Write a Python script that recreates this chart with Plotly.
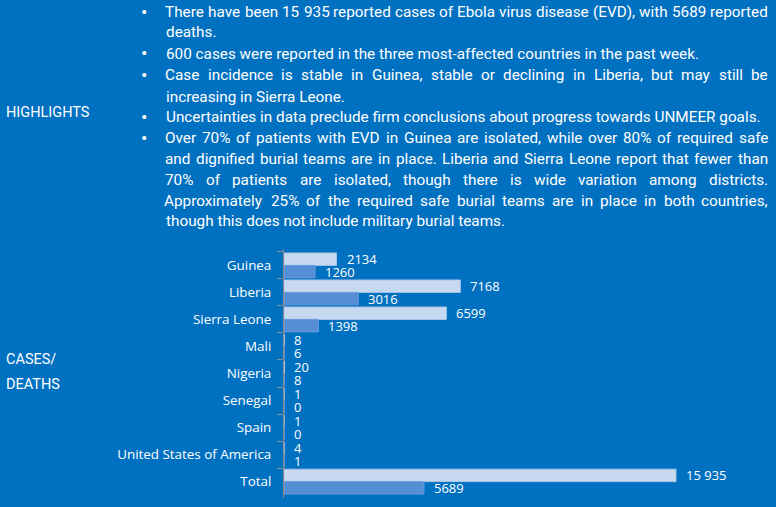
import plotly.graph_objects as go

W, H = 776, 507

countries = ["Guinea", "Liberia", "Sierra Leone", "Mali", "Nigeria", "Senegal",
             "Spain", "United States of America", "Total"]
cases = [2134, 7168, 6599, 8, 20, 1, 1, 4, 15935]
deaths = [1260, 3016, 1398, 6, 8, 0, 0, 1, 5689]

# (text, starts a bullet, justified line)
highlight_lines = [
    ("There have been 15 935 reported cases of Ebola virus disease (EVD), with 5689 reported", True, True),
    ("deaths.", False, False),
    ("600 cases were reported in the three most-affected countries in the past week.", True, False),
    ("Case incidence is stable in Guinea, stable or declining in Liberia, but may still be", True, True),
    ("increasing in Sierra Leone.", False, False),
    ("Uncertainties in data preclude firm conclusions about progress towards UNMEER goals.", True, False),
    ("Over 70% of patients with EVD in Guinea are isolated, while over 80% of required safe", True, True),
    ("and dignified burial teams are in place. Liberia and Sierra Leone report that fewer than", False, True),
    ("70% of patients are isolated, though there is wide variation among districts.", False, True),
    ("Approximately 25% of the required safe burial teams are in place in both countries,", False, True),
    ("though this does not include military burial teams.", False, False),
]
line_y = [12.3, 32.3, 54, 75.3, 96.7, 117.3, 138.3, 159, 180, 200.7, 220.7]

# approximate Roboto advance widths (em)
_W = {
    " ": .248, "a": .532, "b": .547, "c": .510, "d": .550, "e": .517, "f": .340, "g": .547,
    "h": .539, "i": .237, "j": .234, "k": .495, "l": .237, "m": .855, "n": .539, "o": .556,
    "p": .547, "q": .550, "r": .331, "s": .505, "t": .320, "u": .538, "v": .472, "w": .733,
    "x": .485, "y": .463, "z": .485, ".": .257, ",": .192, "(": .334, ")": .340, "%": .716,
    "-": .270, "A": .652, "B": .623, "C": .636, "D": .640, "E": .555, "F": .546, "G": .666,
    "H": .697, "I": .272, "L": .528, "M": .855, "N": .697, "O": .672, "P": .626, "R": .614,
    "S": .602, "T": .604, "U": .633, "V": .637, "W": .868,
}
W_SCALE = 1.02


def text_w(s, size):
    return sum(_W.get(ch, .561) for ch in s) * size * W_SCALE


def fmt(v):
    return f"{v:,}".replace(",", " ") if v >= 10000 else str(v)


BG = "#0070C0"
CASE_C = "#C6D9F1"
DEATH_C = "#558ED5"
TXT_FONT = "Roboto, sans-serif"
CH_FONT = "Open Sans, Noto Sans, sans-serif"
X_LEFT, X_RIGHT = 165, 768
FS = 15.3

fig = go.Figure()
fig.add_trace(go.Bar(y=countries, x=cases, orientation="h", name="Cases",
                     marker=dict(color=CASE_C, line=dict(color="#A9C4E8", width=1)),
                     hoverinfo="x+y"))
fig.add_trace(go.Bar(y=countries, x=deaths, orientation="h", name="Deaths",
                     marker=dict(color=DEATH_C, line=dict(color="#6A9CDD", width=1)),
                     hoverinfo="x+y"))

ann = []
for vals, dy in ((cases, 6.4), (deaths, -6.4)):
    for c, v in zip(countries, vals):
        ann.append(dict(x=v, y=c, xref="x", yref="y", text=fmt(v), showarrow=False,
                        xanchor="left", yanchor="middle", xshift=9, yshift=dy,
                        borderpad=0,
                        font=dict(family=CH_FONT, size=13, color="white")))


def px(x, y):
    return x / W, 1 - y / H


def add_text(t, x, yy, anchor="left", size=FS):
    x0, y0 = px(x, yy)
    ann.append(dict(x=x0, y=y0, xref="paper", yref="paper", text=t, showarrow=False,
                    xanchor=anchor, yanchor="middle", borderpad=0,
                    font=dict(family=TXT_FONT, size=size, color="white")))


for (t, bullet, just), yy in zip(highlight_lines, line_y):
    if bullet:
        add_text("•", 144, yy, anchor="center", size=19)
    if not just:
        add_text(t, X_LEFT, yy)
        continue
    words = t.split(" ")
    widths = [text_w(w_, FS) for w_ in words]
    gap = (X_RIGHT - X_LEFT - sum(widths)) / (len(words) - 1)
    pos = X_LEFT
    for w_, wd in zip(words, widths):
        add_text(w_, pos + wd / 2, yy, anchor="center")
        pos += wd + gap

for t, yy in [("HIGHLIGHTS", 112), ("CASES/", 359), ("DEATHS", 384)]:
    add_text(t, 5, yy, size=14.5)

fig.update_layout(
    width=W, height=H,
    margin=dict(l=0, r=0, t=0, b=0),
    paper_bgcolor=BG, plot_bgcolor=BG,
    barmode="group", bargap=0.08, bargroupgap=0,
    showlegend=False,
    annotations=ann,
    xaxis=dict(domain=[284 / W, 1], range=[0, 20000], showgrid=False, zeroline=False,
               showticklabels=False, showline=False, ticks=""),
    yaxis=dict(domain=[9 / H, 1 - 249 / H], autorange="reversed", type="category",
               showgrid=False, zeroline=False, showline=True, linecolor="#8C8C8C",
               linewidth=1, ticks="outside", tickson="boundaries", ticklen=6,
               tickcolor="#8C8C8C", ticklabelstandoff=9,
               tickfont=dict(family=CH_FONT, size=13.4, color="white")),
)

fig.write_html("out.html", config={"displayModeBar": False},
               post_script="document.body.style.margin='0';")
